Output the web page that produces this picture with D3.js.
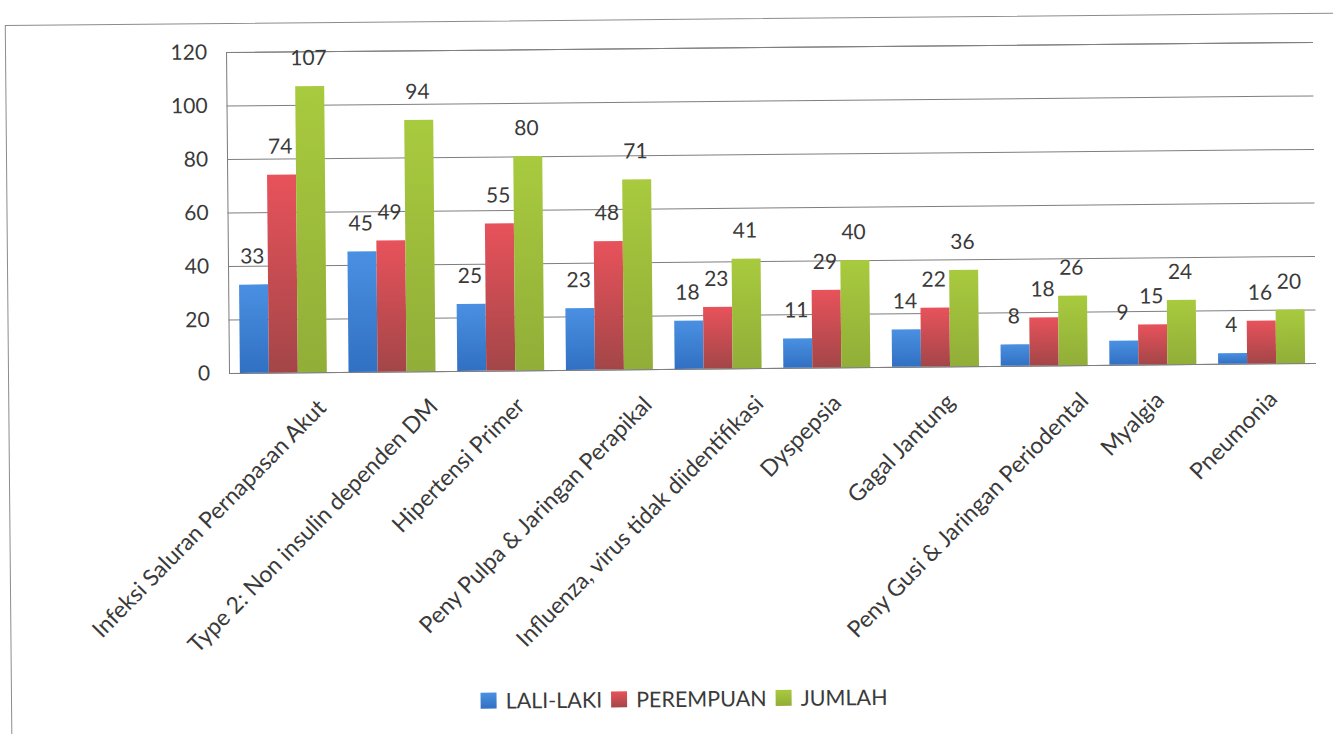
<!DOCTYPE html>
<html>
<head>
<meta charset="utf-8">
<script src="https://cdn.jsdelivr.net/npm/d3@7"></script>
<style>
  html, body { margin: 0; padding: 0; background: #ffffff; }
  svg { display: block; }
  text { font-family: Lato, "Open Sans", sans-serif; }
</style>
</head>
<body>
<svg id="chart" width="1333" height="734"></svg>
<script>
const categories = [
  "Infeksi Saluran Pernapasan Akut",
  "Type 2: Non insulin dependen DM",
  "Hipertensi Primer",
  "Peny Pulpa & Jaringan Perapikal",
  "Influenza, virus tidak diidentifikasi",
  "Dyspepsia",
  "Gagal Jantung",
  "Peny Gusi & Jaringan Periodental",
  "Myalgia",
  "Pneumonia"
];
const seriesNames = ["LALI-LAKI", "PEREMPUAN", "JUMLAH"];
const lakiLaki  = [33, 45, 25, 23, 18, 11, 14, 8, 9, 4];
const perempuan = [74, 49, 55, 48, 23, 29, 22, 18, 15, 16];
const jumlah    = [107, 94, 80, 71, 41, 40, 36, 26, 24, 20];
const yTicks = [0, 20, 40, 60, 80, 100, 120];

const seriesValues = [lakiLaki, perempuan, jumlah];
const seriesGrad = [
  ["#4a90e2", "#3170c2"],
  ["#e8525b", "#a34648"],
  ["#a8ca3e", "#91ae38"]
];

const svg = d3.select("#chart");
const defs = svg.append("defs");
seriesGrad.forEach((g, i) => {
  const lg = defs.append("linearGradient")
    .attr("id", "grad" + i).attr("x1", 0).attr("y1", 0).attr("x2", 0).attr("y2", 1);
  lg.append("stop").attr("offset", "0%").attr("stop-color", g[0]);
  lg.append("stop").attr("offset", "100%").attr("stop-color", g[1]);
});

const pL = 229, pR = 1316, pT = 52, pB = 373;
const root = svg.append("g").attr("transform", `rotate(-0.53, ${pL}, ${pB})`);

// outer chart border
root.append("rect")
  .attr("x", 8.5).attr("y", 23.5).attr("width", 1340).attr("height", 740)
  .attr("fill", "none").attr("stroke", "#8c8c8c").attr("stroke-width", 1);

const x0 = d3.scaleBand().domain(categories).range([pL, pR]).paddingInner(0.2).paddingOuter(0.1);
const x1 = d3.scaleBand().domain(seriesNames).range([0, x0.bandwidth()]);
const y = d3.scaleLinear().domain([0, 120]).range([pB, pT]);

// gridlines
const yAxis = d3.axisLeft(y).tickValues(yTicks).tickSize(-(pR - pL)).tickPadding(19).tickFormat(d3.format("d"));
const ga = root.append("g").attr("transform", `translate(${pL},0)`).call(yAxis);
ga.select(".domain").attr("stroke", "#7a7a7a");
ga.selectAll(".tick line").attr("stroke", "#7f7f7f").attr("stroke-width", 1);
ga.selectAll(".tick text").attr("font-size", 21).attr("fill", "#3a3a3a")
  .style("font-family", "Lato, 'Open Sans', sans-serif");

// bars
const groups = root.append("g").selectAll("g").data(categories).join("g")
  .attr("transform", d => `translate(${x0(d)},0)`);

seriesNames.forEach((s, si) => {
  groups.append("rect")
    .attr("x", x1(s))
    .attr("width", x1.bandwidth())
    .attr("y", (d, i) => y(seriesValues[si][i]))
    .attr("height", (d, i) => y(0) - y(seriesValues[si][i]))
    .attr("fill", `url(#grad${si})`);
});
seriesNames.forEach((s, si) => {
  groups.append("text")
    .attr("x", x1(s) + x1.bandwidth() / 2 - 1)
    .attr("y", (d, i) => y(seriesValues[si][i]) - 21)
    .attr("text-anchor", "middle")
    .attr("font-size", 21)
    .attr("fill", "#3a3a3a")
    .text((d, i) => seriesValues[si][i]);
});

// category labels, rotated
const xl = root.append("g").selectAll("text").data(categories).join("text")
  .attr("font-size", 23)
  .attr("fill", "#3a3a3a")
  .attr("text-anchor", "end")
  .text(d => d);
xl.each(function(d) {
  const len = this.getComputedTextLength();
  const ax = x0(d) + x0.bandwidth() / 2 + 0.13 * len + 2;
  const ay = pB + 37;
  d3.select(this).attr("transform", `translate(${ax},${ay}) rotate(-45)`);
});

// legend
const legend = root.append("g");
const items = legend.selectAll("g").data(seriesNames).join("g");
items.append("rect").attr("width", 16).attr("height", 16).attr("y", -16)
  .attr("fill", (d, i) => `url(#grad${i})`);
items.append("text").attr("x", 25).attr("y", 0).attr("font-size", 21.5).attr("fill", "#3a3a3a").text(d => d);
let cx = 0;
items.each(function() {
  d3.select(this).attr("transform", `translate(${cx},0)`);
  const w = this.querySelector("text").getComputedTextLength();
  cx += 25 + w + 9;
});
const totalW = cx - 9;
legend.attr("transform", `translate(${681 - totalW / 2}, ${711})`);
</script>
</body>
</html>
